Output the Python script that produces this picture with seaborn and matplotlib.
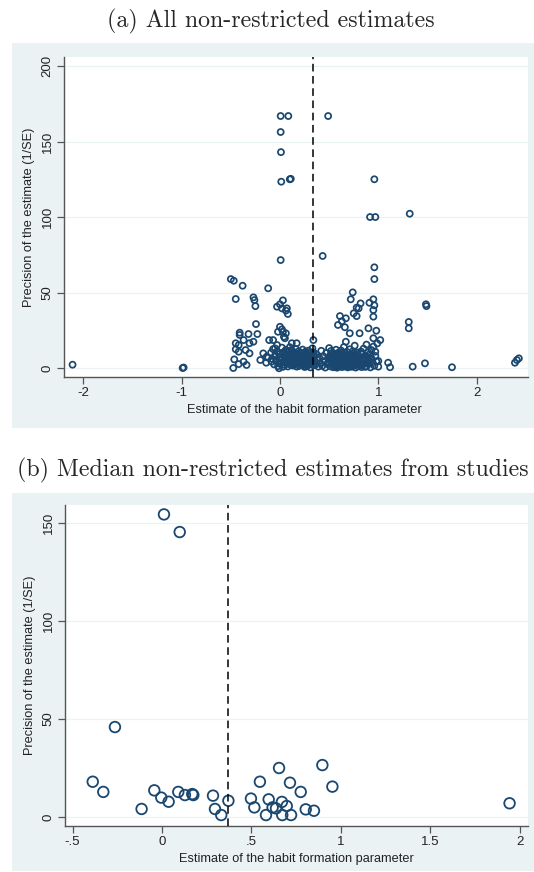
"""Funnel plots of habit formation estimates (Stata-like look)."""
import matplotlib
matplotlib.use("Agg")
import matplotlib.pyplot as plt
from matplotlib.patches import Rectangle
import seaborn as sns
import pandas as pd

# ---- data: panel (a), all non-restricted estimates -------------------------
est_a_tail = [-2.11, -0.99, -0.98,
              0.007, 0.085, 0.49, 0.007, 0.01, 0.013, 0.10, 0.11, 0.96,
              0.916, 0.97, 1.32, 0.007, 0.434, 0.96, 0.96,
              -0.50, -0.47, -0.38, -0.12, 0.74, 0.72, -0.45, -0.27, -0.26, -0.25,
              0.03, 0.0, -0.03, 0.07, 0.02, 0.06, 0.08,
              0.95, 0.91, 0.82, 0.96, 0.78, 0.80, 0.95, 0.75, 0.78, 0.95, 0.67, 0.61,
              1.485, 1.49, 1.31, 1.31, -0.244,
              0.0, 0.02, -0.02, 0.03, 0.06, 0.04, 0.05,
              -0.41, -0.41, -0.32, -0.23,
              0.71, 0.81, 0.90, 0.98, 1.02, 0.95, 0.67, 0.59, 0.63, 0.66,
              0.93, 0.97, 1.0, 1.10, 1.12, 1.35, 1.475, 1.75, 2.39, 2.43, 2.41,
              -0.45, -0.42, -0.37, -0.31, -0.27, -0.45, -0.42, -0.35, -0.31,
              -0.11, -0.07, -0.03, 0.34, 0.12, 0.17,
              -0.465, -0.37, -0.42, -0.34, -0.475, -0.20, -0.17, -0.135, -0.085, -0.01]
prec_a_tail = [2.2, 0.0, 0.3,
               166.9, 166.9, 166.9, 156.3, 143.0, 123.4, 125.0, 125.3, 125.0,
               100.0, 100.0, 102.2, 71.5, 74.2, 66.7, 58.9,
               58.9, 57.8, 54.5, 52.8, 50.1, 45.5, 45.7, 46.8, 45.0, 41.0,
               44.8, 42.2, 40.6, 39.5, 39.5, 38.0, 35.8,
               45.5, 43.2, 42.8, 41.5, 40.0, 39.5, 38.4, 36.2, 34.4, 34.0, 32.9, 34.4,
               42.2, 41.0, 30.5, 26.3, 29.1,
               27.3, 25.6, 24.0, 24.0, 23.0, 20.7, 19.7,
               23.4, 21.9, 22.5, 22.5,
               23.0, 23.0, 26.3, 24.7, 18.5, 19.7, 17.4, 28.5, 31.0, 27.0,
               11.9, 10.8, 4.6, 3.5, 0.5, 0.9, 3.1, 0.5, 3.5, 6.4, 5.3,
               16.4, 15.2, 18.5, 16.4, 17.4, 12.4, 10.8, 11.9, 9.7,
               18.5, 18.5, 15.2, 18.5, 16.4, 16.4,
               5.7, 4.2, 2.6, 2.0, 0.0, 5.3, 9.7, 7.5, 4.2, -0.2]

# the dense band of low-precision estimates near the bottom
est_a_bulk = [-0.09, -0.08, -0.07, -0.06, -0.05, -0.04, -0.03, -0.02, -0.01, 0.0,
              0.0, 0.01, 0.02, 0.02, 0.03, 0.04, 0.04, 0.05, 0.05, 0.06,
              0.06, 0.07, 0.07, 0.08, 0.08, 0.09, 0.09, 0.10, 0.10, 0.10,
              0.11, 0.11, 0.12, 0.12, 0.13, 0.13, 0.14, 0.14, 0.15, 0.15,
              0.16, 0.16, 0.17, 0.17, 0.18, 0.18, 0.19, 0.19, 0.20, 0.20,
              0.21, 0.21, 0.22, 0.22, 0.23, 0.23, 0.24, 0.24, 0.25, 0.25,
              0.26, 0.26, 0.27, 0.27, 0.28, 0.28, 0.29, 0.29, 0.30, 0.30,
              0.31, 0.31, 0.32, 0.32, 0.33, 0.33, 0.34, 0.34, 0.35, 0.35,
              0.36, 0.37, 0.38, 0.39, 0.40, 0.41, 0.42, 0.43, 0.44, 0.45,
              0.46, 0.47, 0.48, 0.49, 0.50,
              0.50, 0.51, 0.51, 0.52, 0.52, 0.53, 0.53, 0.54, 0.54, 0.55,
              0.55, 0.56, 0.56, 0.57, 0.57, 0.58, 0.58, 0.59, 0.59, 0.60,
              0.60, 0.61, 0.61, 0.62, 0.62, 0.63, 0.63, 0.64, 0.64, 0.65,
              0.65, 0.66, 0.66, 0.67, 0.67, 0.68, 0.68, 0.69, 0.69, 0.70,
              0.70, 0.71, 0.71, 0.72, 0.72, 0.73, 0.73, 0.74, 0.74, 0.75,
              0.75, 0.76, 0.76, 0.77, 0.77, 0.78, 0.78, 0.79, 0.79, 0.80,
              0.81, 0.82, 0.83, 0.83, 0.84, 0.85, 0.86, 0.87, 0.88, 0.88,
              0.89, 0.90, 0.91, 0.92, 0.93, 0.94, 0.95, 0.96, 0.97, 0.98,
              0.99, 1.0,
              0.105, 0.125, 0.145, 0.165, 0.185, 0.205, 0.225, 0.245, 0.265, 0.285,
              0.305, 0.325, 0.345, 0.115, 0.135, 0.155, 0.175, 0.195, 0.215, 0.235,
              0.255, 0.275, 0.295, 0.315, 0.335,
              0.515, 0.535, 0.555, 0.575, 0.595, 0.615, 0.635, 0.655, 0.675, 0.695,
              0.715, 0.735, 0.755, 0.775, 0.795, 0.815, 0.835, 0.855, 0.875, 0.895,
              0.525, 0.545, 0.565, 0.585, 0.605, 0.625, 0.645, 0.665, 0.685, 0.705,
              0.725, 0.745, 0.765, 0.785, 0.805, 0.825, 0.845, 0.865, 0.885, 0.905,
              -0.14, -0.12, -0.05, -0.01, 0.03, 0.065, 0.085]
prec_a_bulk = [10.2, 6.1, 12.5, 2.4, 8.3, 4.7, 11.0, 1.2, 7.2, 5.0,
               9.4, 3.1, 13.5, 6.6, 0.8, 10.6, 4.0, 7.9, 2.0, 12.0,
               5.6, 9.0, 3.4, 1.0, 6.9, 11.2, 4.6, 8.2, 2.6, 13.8,
               6.0, 9.8, 3.8, 11.9, 1.6, 7.5, 5.1, 10.3, 2.9, 8.6,
               12.6, 6.4, 4.2, 0.9, 9.3, 7.0, 3.0, 11.0, 5.6, 8.0,
               1.9, 10.1, 6.8, 4.0, 12.2, 2.5, 7.7, 9.2, 5.0, 0.7,
               3.4, 10.8, 6.3, 8.5, 1.5, 4.7, 11.5, 7.1, 2.8, 9.6,
               5.5, 0.4, 8.0, 3.9, 6.7, 13.0, 1.8, 10.4, 4.4, 7.6,
               2.2, 9.1, 5.3, 0.9, 6.9, 3.3, 11.4, 1.4, 7.8, 4.6,
               0.3, 9.9, 2.7, 6.0, 13.2,
               3.6, 8.4, 1.1, 5.7, 11.3, 2.4, 7.0, 4.3, 0.5, 9.5,
               6.2, 1.8, 3.2, 12.1, 7.9, 4.9, 0.2, 10.0, 2.9, 6.5,
               8.8, 1.3, 5.2, 3.8, 11.6, 7.3, 0.6, 9.2, 2.1, 4.5,
               13.9, 6.9, 1.0, 3.0, 8.1, 10.7, 5.4, 0.4, 2.6, 7.6,
               4.1, 12.4, 1.6, 6.1, 9.0, 3.5, 0.8, 5.0, 11.0, 2.2,
               7.4, 4.0, 14.8, 0.3, 8.9, 6.2, 2.9, 10.2, 1.2, 4.7,
               7.1, 2.0, 9.6, 0.6, 5.3, 12.8, 3.1, 7.8, 1.0, 15.5,
               5.9, 2.7, 9.0, 0.4, 6.4, 3.7, 14.2, 1.5, 8.0, 4.4,
               16.3, 0.9,
               4.5, 7.0, 2.2, 9.5, 5.9, 3.3, 8.7, 6.0, 1.0, 5.3,
               7.3, 3.0, 9.0, 1.9, 8.9, 4.6, 6.3, 1.4, 7.6, 4.9,
               10.0, 2.3, 6.8, 9.9, 5.2,
               6.4, 2.8, 8.1, 3.9, 1.2, 7.4, 5.6, 9.9, 1.9, 4.3,
               8.3, 6.5, 2.1, 5.7, 8.0, 4.0, 1.8, 6.0, 3.4, 10.4,
               9.7, 5.3, 0.7, 7.2, 3.6, 10.1, 6.6, 2.3, 8.7, 1.1,
               4.8, 9.6, 5.8, 3.2, 2.5, 10.9, 6.9, 0.8, 7.5, 4.9,
               3.5, 6.8, 13.0, 2.9, 9.8, 7.6, 5.2]

# ---- data: panel (b), median estimates from studies ------------------------
est_b = [-0.387, -0.328, -0.114, -0.043, -0.004, 0.037, 0.091, 0.128, 0.169, 0.175,
         0.285, 0.296, 0.331, 0.371, 0.497, 0.516, 0.547, 0.581, 0.596, 0.618,
         0.637, 0.654, 0.670, 0.672, 0.697, 0.715, 0.721, 0.775, 0.803, 0.849,
         0.896, 0.952, 1.942, 0.011, 0.099, -0.263]
prec_b = [18.0, 12.8, 4.1, 13.6, 9.9, 7.8, 12.8, 11.2, 11.7, 11.2,
          10.9, 4.1, 1.0, 8.3, 9.4, 4.9, 18.0, 1.0, 9.0, 4.9,
          4.4, 25.0, 7.7, 1.0, 5.6, 17.5, 1.0, 12.8, 3.9, 3.2,
          26.5, 15.5, 7.0, 154.4, 145.4, 45.9]

mean_a = 0.336
mean_b = 0.37

titles = ["(a) All non-restricted estimates",
          "(b) Median non-restricted estimates from studies"]
xlabel = "Estimate of the habit formation parameter"
ylabel = "Precision of the estimate (1/SE)"

xticks_a = [-2, -1, 0, 1, 2]
xticklabels_a = ["-2", "-1", "0", "1", "2"]
yticks_a = [0, 50, 100, 150, 200]
xticks_b = [-0.5, 0, 0.5, 1, 1.5, 2]
xticklabels_b = ["-.5", "0", ".5", "1", "1.5", "2"]
yticks_b = [0, 50, 100, 150]

# ---- style -----------------------------------------------------------------
sns.set_style("ticks")
plt.rcParams["font.family"] = ["Liberation Sans", "DejaVu Sans"]

NAVY = "#1a476f"
BG = "#eaf2f3"
AXIS = "#555555"
W, H = 534, 872

df_a = pd.DataFrame({"est": est_a_tail + est_a_bulk, "prec": prec_a_tail + prec_a_bulk})
df_b = pd.DataFrame({"est": est_b, "prec": prec_b})

fig = plt.figure(figsize=(W / 100, H / 100), dpi=100, facecolor="white")


def px_rect(x0, y0, x1, y1):
    # pixel box (top-left origin) -> figure fraction [l, b, w, h]
    return [x0 / W, 1 - y1 / H, (x1 - x0) / W, (y1 - y0) / H]


# light blue graph regions, kept behind the axes
for y0, y1 in [(43, 428), (493, 871)]:
    l, b, w, h = px_rect(12, y0, 534, y1)
    fig.patches.append(Rectangle((l, b), w, h, transform=fig.transFigure,
                                 facecolor=BG, edgecolor="none", zorder=-10))

ax_a = fig.add_axes(px_rect(64, 57, 528, 377))
ax_b = fig.add_axes(px_rect(65, 505, 528, 826))

panels = [
    (ax_a, df_a, mean_a, 19, 1.25, (-2.197, 2.523), (-5.96, 206.0),
     xticks_a, xticklabels_a, yticks_a, 0.519),
    (ax_b, df_b, mean_b, 58, 1.3, (-0.542, 2.045), (-4.59, 159.2),
     xticks_b, xticklabels_b, yticks_b, 0.5),
]

for ax, df, mline, msize, mlw, xlim, ylim, xt, xtl, yt, xlab_x in panels:
    ax.set_facecolor("white")
    for y in yt:
        ax.axhline(y, color=BG, lw=0.9, zorder=0)
    sns.scatterplot(data=df, x="est", y="prec", ax=ax, marker="o", s=msize,
                    color=NAVY, facecolor="none", edgecolor=NAVY,
                    linewidth=mlw, zorder=3)
    ax.axvline(mline, color="black", lw=1.1, ls=(0, (5, 3)), zorder=4)
    ax.set_xlim(*xlim)
    ax.set_ylim(*ylim)
    ax.set_xticks(xt)
    ax.set_xticklabels(xtl)
    ax.set_yticks(yt)
    ax.set_yticklabels([str(v) for v in yt], rotation=90, va="center")
    ax.tick_params(axis="both", length=5, width=0.9, color=AXIS,
                   labelsize=9.5, labelcolor="#222222", pad=2.5)
    for side in ["top", "right"]:
        ax.spines[side].set_visible(False)
    for side in ["left", "bottom"]:
        ax.spines[side].set_color(AXIS)
        ax.spines[side].set_linewidth(1.0)
    ax.set_xlabel(xlabel, fontsize=9.2, color="#222222")
    ax.set_ylabel(ylabel, fontsize=9.2, color="#222222")
    ax.xaxis.set_label_coords(xlab_x, -0.085)
    ax.yaxis.set_label_coords(-0.062, 0.5)

fig.text(0.508, 1 - 21 / H, titles[0], family=["cmr10", "DejaVu Serif"],
         fontsize=17.2, ha="center", va="center")
fig.text(0.510, 1 - 470 / H, titles[1], family=["cmr10", "DejaVu Serif"],
         fontsize=17.2, ha="center", va="center")

fig.savefig("out.png", dpi=100)
